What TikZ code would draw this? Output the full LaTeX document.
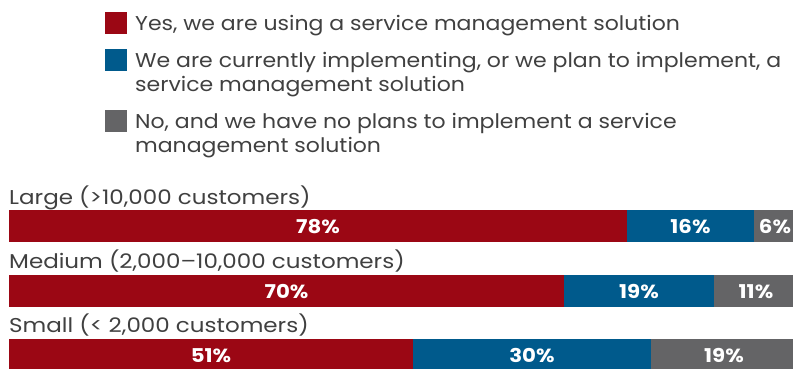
\documentclass[tikz,border=0pt]{standalone}
\usepackage{fontspec}
\setmainfont{Poppins}
\newfontfamily\legfont{Poppins}[FakeStretch=1.1]
\newfontfamily\catfont{Poppins}[FakeStretch=1.15]
\newfontfamily\pctfont{Poppins}[FakeStretch=1.12]
\definecolor{cred}{HTML}{9B0714}
\definecolor{cblue}{HTML}{005A8C}
\definecolor{cgray}{HTML}{646466}
\definecolor{ctext}{HTML}{404040}
\begin{document}
\begin{tikzpicture}[x=1pt,y=-1pt,
  pct/.style={text=white,font=\pctfont\fontsize{19}{19}\selectfont\bfseries,inner sep=0pt,anchor=base},
  cat/.style={text=ctext,font=\catfont\fontsize{20}{20}\selectfont,inner sep=0pt,anchor=base west},
  leg/.style={text=ctext,font=\legfont\fontsize{20}{24}\selectfont,inner sep=0pt,anchor=base west,align=left},
  sw/.style={fill=#1,minimum size=22pt,inner sep=0pt,anchor=north west}]
\useasboundingbox (0,0) rectangle (793,368);
% legend
\node[sw=cred] (s1) at (105,12) {};
\node[sw=cblue] (s2) at (105,49) {};
\node[sw=cgray] (s3) at (105,110) {};
\node[leg] (l1) at (135,30) {Yes, we are using a service management solution};
\node[leg] (l2) at (135,91) {We are currently implementing, or we plan to implement, a\\service management solution};
\node[leg] (l3) at (135,152) {No, and we have no plans to implement a service\\management solution};
% categories
\node[cat] (c1) at (9,204) {Large (>10,000 customers)};
\node[cat] (c2) at (9,268) {Medium (2,000–10,000 customers)};
\node[cat] (c3) at (9,332) {Small (< 2,000 customers)};
% bars
\fill[cred] (9,210) rectangle (627,242);
\fill[cblue] (627,210) rectangle (754,242);
\fill[cgray] (754,210) rectangle (793,242);
\fill[cred] (9,275) rectangle (564,307);
\fill[cblue] (564,275) rectangle (714,307);
\fill[cgray] (714,275) rectangle (793,307);
\fill[cred] (9,339) rectangle (413,371);
\fill[cblue] (413,339) rectangle (651,371);
\fill[cgray] (651,339) rectangle (793,371);
% percentages
\node[pct] (p11) at (318,233) {78\%};
\node[pct] (p12) at (690.5,233) {16\%};
\node[pct] (p13) at (775,233) {6\%};
\node[pct] (p21) at (286.5,298) {70\%};
\node[pct] (p22) at (639,298) {19\%};
\node[pct] (p23) at (756,298) {11\%};
\node[pct] (p31) at (211,362) {51\%};
\node[pct] (p32) at (532,362) {30\%};
\node[pct] (p33) at (724,362) {19\%};
\end{tikzpicture}
\end{document}
